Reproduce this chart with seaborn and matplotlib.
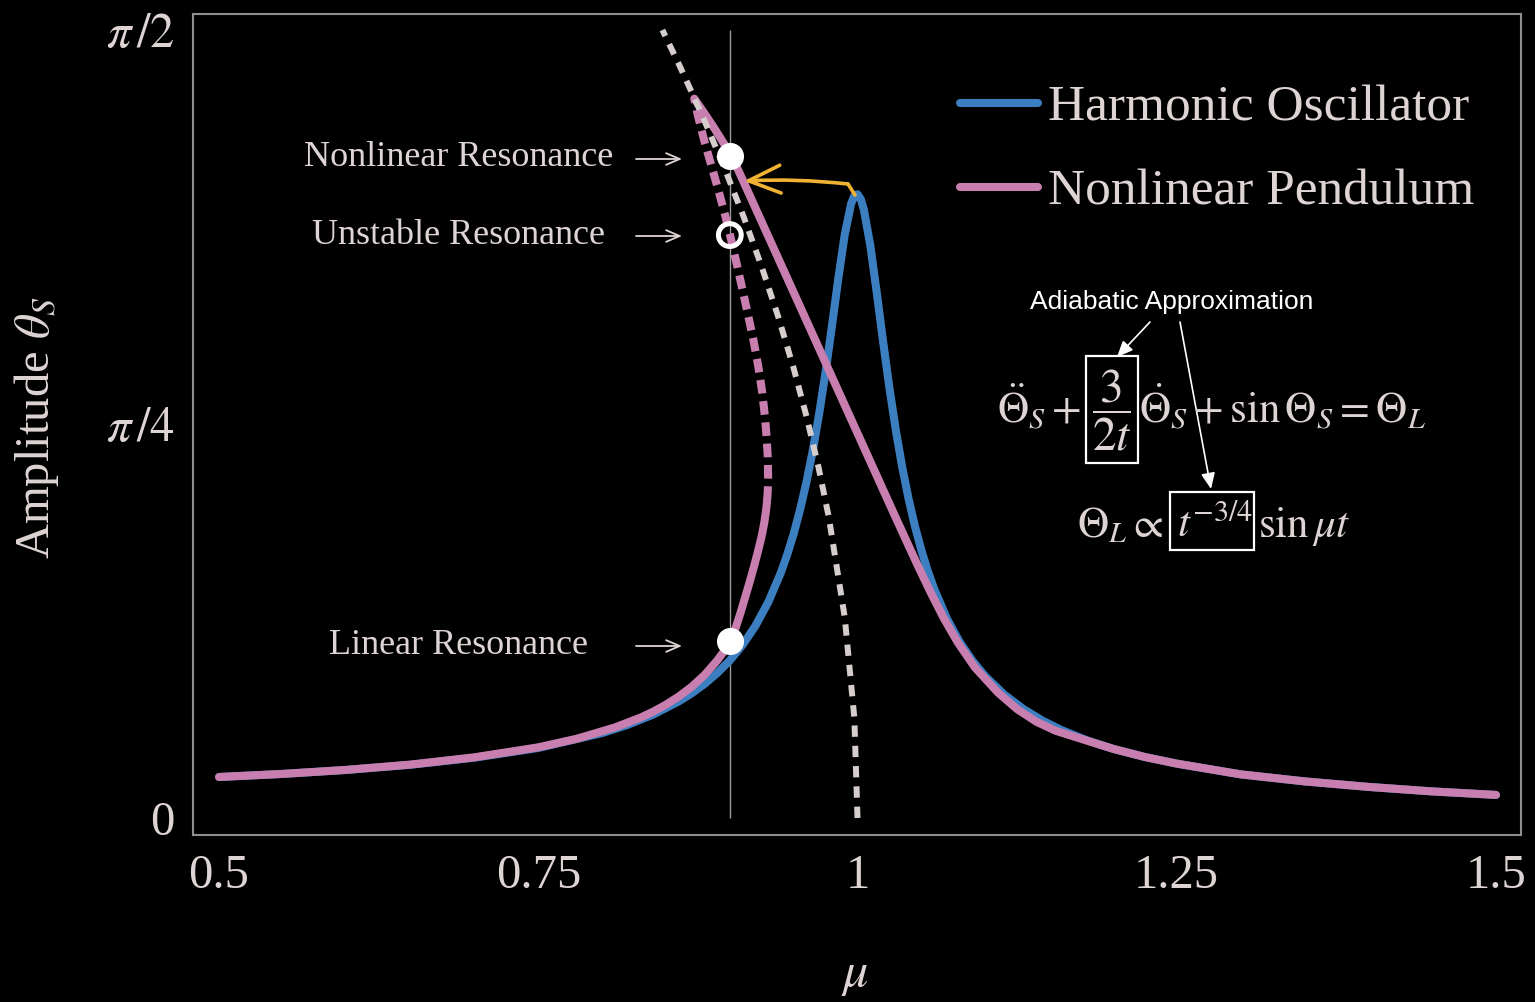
import numpy as np
import matplotlib
matplotlib.use("Agg")
import matplotlib.pyplot as plt
from matplotlib.lines import Line2D
from matplotlib.patches import Rectangle
import seaborn as sns

# ---------------------------------------------------------------------------
# Steady-state amplitude theta_S versus drive frequency mu
# ---------------------------------------------------------------------------
harmonic_mu = [0.50, 0.55, 0.60, 0.65, 0.70, 0.75, 0.80, 0.82, 0.84, 0.86,
               0.87, 0.88, 0.89, 0.90, 0.91, 0.92, 0.93, 0.94, 0.945, 0.95,
               0.955, 0.96, 0.965, 0.97, 0.975, 0.98, 0.985, 0.99, 0.995,
               0.9975, 1.00, 1.0025, 1.005, 1.01, 1.015, 1.02, 1.025, 1.03,
               1.035, 1.04, 1.045, 1.05, 1.055, 1.06, 1.07, 1.08, 1.09, 1.10,
               1.115, 1.13, 1.145, 1.16, 1.18, 1.20, 1.225, 1.25, 1.30, 1.35,
               1.40, 1.45, 1.50]
harmonic_amp = [0.0817, 0.0879, 0.0958, 0.1061, 0.1202, 0.1396, 0.1693, 0.1857,
                0.2062, 0.2323, 0.2483, 0.2668, 0.2885, 0.3140, 0.3450, 0.3827,
                0.4297, 0.4892, 0.5254, 0.5665, 0.6144, 0.6694, 0.7331, 0.8063,
                0.8896, 0.9810, 1.0762, 1.1630, 1.2246, 1.2401, 1.2434, 1.2339,
                1.2126, 1.1417, 1.0486, 0.9504, 0.8570, 0.7730, 0.6996, 0.6361,
                0.5813, 0.5338, 0.4927, 0.4568, 0.3975, 0.3509, 0.3134, 0.2826,
                0.2458, 0.2171, 0.1939, 0.1750, 0.1545, 0.1380, 0.1216, 0.1084,
                0.0870, 0.0730, 0.0620, 0.0530, 0.0460]

# nonlinear pendulum: stable lower branch
pendulum_lower_mu = [0.50, 0.55, 0.60, 0.65, 0.70, 0.75, 0.78, 0.81, 0.83, 0.84,
                     0.85, 0.86, 0.87, 0.88, 0.89, 0.895, 0.9000, 0.9047, 0.9085,
                     0.9120, 0.9155, 0.9188, 0.9219, 0.9248, 0.9271, 0.9287,
                     0.9292]
pendulum_lower_amp = [0.0817, 0.0879, 0.0960, 0.1065, 0.1210, 0.1409, 0.1578,
                      0.1805, 0.2001, 0.2120, 0.2260, 0.2422, 0.2613, 0.2845,
                      0.3135, 0.3308, 0.352, 0.380, 0.410, 0.440, 0.470, 0.500,
                      0.530, 0.560, 0.590, 0.620, 0.634]

# nonlinear pendulum: unstable middle branch
pendulum_unstable_mu = [0.9292, 0.9297, 0.9300, 0.9297, 0.9288, 0.9275, 0.9253,
                        0.9223, 0.9187, 0.9145, 0.9102, 0.9058, 0.9013, 0.8965,
                        0.8912, 0.8856, 0.8800, 0.8750, 0.8722]
pendulum_unstable_amp = [0.634, 0.650, 0.680, 0.720, 0.760, 0.800, 0.850, 0.900,
                         0.950, 1.000, 1.050, 1.100, 1.150, 1.200, 1.250, 1.300,
                         1.350, 1.400, 1.434]

# nonlinear pendulum: stable upper branch
pendulum_upper_mu = [0.8722, 0.8800, 0.8871, 0.8940, 0.9015, 0.9140, 0.9229,
                     0.9318, 0.9407, 0.9496, 0.9585, 0.9674, 0.9763, 0.9852,
                     0.9941, 1.0030, 1.0119, 1.0208, 1.0297, 1.0387, 1.0478,
                     1.0572, 1.0672, 1.0785, 1.0920, 1.1100, 1.1250, 1.1400,
                     1.1550, 1.1780, 1.2000, 1.2250, 1.2500, 1.3000, 1.3500,
                     1.4000, 1.4500, 1.5000]
pendulum_upper_amp = [1.434, 1.405, 1.378, 1.350, 1.320, 1.250, 1.200, 1.150,
                      1.100, 1.050, 1.000, 0.950, 0.900, 0.850, 0.800, 0.750,
                      0.700, 0.650, 0.600, 0.550, 0.500, 0.450, 0.400, 0.350,
                      0.300, 0.250, 0.217, 0.192, 0.174, 0.1555, 0.138, 0.1216,
                      0.1084, 0.087, 0.073, 0.062, 0.053, 0.046]

# free-pendulum backbone: frequency of oscillation versus amplitude
backbone_mu = [1.0000, 0.9975, 0.9900, 0.9775, 0.9694, 0.9601, 0.9496, 0.9378,
               0.9248, 0.9106, 0.8951, 0.8785, 0.8606, 0.8472]
backbone_amp = [0.0, 0.2, 0.4, 0.6, 0.7, 0.8, 0.9, 1.0, 1.1, 1.2, 1.3, 1.4,
                1.5, 1.5708]

# marked operating points on the mu = 0.9 line
drive_mu = 0.9
point_names = ["Nonlinear Resonance", "Unstable Resonance", "Linear Resonance"]
point_amp = [1.320, 1.162, 0.352]

x_ticks = [0.5, 0.75, 1.0, 1.25, 1.5]
x_tick_labels = ["0.5", "0.75", "1", "1.25", "1.5"]
y_ticks = [0.0, np.pi / 4, np.pi / 2]
y_tick_labels = ["0", r"$\pi\,/4$", r"$\pi\,/2$"]
legend_labels = ["Harmonic Oscillator", "Nonlinear Pendulum"]

# ---------------------------------------------------------------------------
W, H = 1535, 1002
BLUE = "#3c7fc1"
PINK = "#c87eaf"
GREY_DASH = "#d6cdcd"
TEXT = "#ded4d4"
FRAME = "#8e8e8e"
YELLOW = "#f0b232"

sns.set_theme(style="white")
plt.rcParams["font.family"] = ["Liberation Serif", "DejaVu Serif"]
plt.rcParams["mathtext.fontset"] = "stix"

fig = plt.figure(figsize=(W / 100, H / 100), dpi=100, facecolor="black")
ax = fig.add_axes([193 / W, (H - 835) / H, (1521 - 193) / W, (835 - 14) / H])
ax.set_facecolor("black")


def fx(x):
    return x / W


def fy(y):
    return 1 - y / H


# vertical guide at the drive frequency
ax.vlines(drive_mu, 0, np.pi / 2, color="#9c9c9c", lw=1.0, zorder=1)

lw = 5.8
sns.lineplot(x=harmonic_mu, y=harmonic_amp, sort=False, estimator=None,
             color=BLUE, lw=lw, ax=ax, zorder=2)
sns.lineplot(x=pendulum_lower_mu, y=pendulum_lower_amp, sort=False,
             estimator=None, color=PINK, lw=lw, ax=ax, zorder=3)
sns.lineplot(x=pendulum_unstable_mu, y=pendulum_unstable_amp, sort=False,
             estimator=None, color=PINK, lw=lw, ax=ax, zorder=3,
             linestyle=(0, (1.7, 0.95)))
sns.lineplot(x=pendulum_upper_mu, y=pendulum_upper_amp, sort=False,
             estimator=None, color=PINK, lw=lw, ax=ax, zorder=3)
sns.lineplot(x=backbone_mu, y=backbone_amp, sort=False, estimator=None,
             color=GREY_DASH, lw=4.3, ax=ax, zorder=4,
             linestyle=(0, (1.9, 1.5)))

# operating points
filled = [0, 2]
sns.scatterplot(x=[drive_mu] * 2, y=[point_amp[i] for i in filled], s=380,
                color="white", edgecolor="white", linewidth=0, ax=ax, zorder=6)
ax.scatter([drive_mu], [point_amp[1]], s=270, facecolor="none",
           edgecolor="white", linewidth=3.6, zorder=6)

ax.set_xlim(0.4796, 1.5196)
ax.set_ylim(-0.0339, 1.6027)
ax.set_xticks(x_ticks, x_tick_labels)
ax.set_yticks(y_ticks, y_tick_labels)
ax.tick_params(axis="both", direction="in", length=11, width=1.3,
               color=FRAME, labelcolor=TEXT, labelsize=35, pad=13)
ax.tick_params(axis="x", pad=14)
for sp in ax.spines.values():
    sp.set_color(FRAME)
    sp.set_linewidth(1.5)
ax.set_xlabel("")
ax.set_ylabel("")

fig.text(fx(37), fy(428), r"Amplitude $\theta_S$", rotation=90, ha="center",
         va="center", fontsize=35, color=TEXT)
fig.text(fx(855), fy(975), r"$\mu$", ha="center", va="center", fontsize=36,
         color=TEXT)

# legend
handles = [Line2D([], [], color=BLUE, lw=lw), Line2D([], [], color=PINK, lw=lw)]
leg = ax.legend(handles, legend_labels, loc="upper left",
                bbox_to_anchor=(fx(960), fy(85)), bbox_transform=fig.transFigure,
                frameon=False, fontsize=37, handlelength=1.52,
                handletextpad=0.2, labelspacing=0.72, borderpad=0,
                borderaxespad=0)
for t in leg.get_texts():
    t.set_color(TEXT)

# labels for the operating points
label_y = [158, 235, 645]
for name, y in zip(point_names, label_y):
    fig.text(fx(459), fy(y), name, ha="center", va="center", fontsize=26,
             color=TEXT)
    ax.annotate("", xy=(682, H - y - 1), xytext=(636, H - y - 1),
                xycoords="figure pixels", textcoords="figure pixels",
                arrowprops=dict(arrowstyle="->,head_length=0.7,head_width=0.3",
                                color=TEXT, lw=1.3, mutation_scale=14,
                                shrinkA=0, shrinkB=0))

# hand-drawn jump arrow from the linear peak to the nonlinear resonance
ax.add_line(Line2D([fx(855), fx(848)], [fy(195), fy(184)],
                   transform=fig.transFigure, color=YELLOW, lw=2.6,
                   solid_capstyle="round", zorder=8))
ax.annotate("", xy=(744, H - 181), xytext=(848, H - 184),
            xycoords="figure pixels", textcoords="figure pixels",
            arrowprops=dict(arrowstyle="->,head_length=1.15,head_width=0.5",
                            color=YELLOW, lw=2.6, mutation_scale=20,
                            shrinkA=0, shrinkB=0,
                            connectionstyle="arc3,rad=0.04"), zorder=8)

# adiabatic approximation equations
fig.text(fx(1172), fy(302), "Adiabatic Approximation", ha="center",
         va="center", fontsize=19, color="white", family="Liberation Sans")
EQ = 31
fig.text(fx(997), fy(424), r"$\ddot{\Theta}_S +$", ha="left", va="baseline",
         fontsize=EQ, color=TEXT)
fig.text(fx(1112), fy(410), r"$\dfrac{3}{2t}$", ha="center", va="center",
         fontsize=34, color=TEXT)
fig.text(fx(1139), fy(424), r"$\dot{\Theta}_S + \sin\Theta_S = \Theta_L$",
         ha="left", va="baseline", fontsize=EQ, color=TEXT)
fig.text(fx(1077), fy(537), r"$\Theta_L \propto$", ha="left", va="baseline",
         fontsize=EQ, color=TEXT)
fig.text(fx(1177), fy(537), r"$t^{-3/4}$", ha="left", va="baseline",
         fontsize=EQ, color=TEXT)
fig.text(fx(1258), fy(537), r"$\sin\mu t$", ha="left", va="baseline",
         fontsize=EQ, color=TEXT)
for (x0, y0, x1, y1) in [(1086, 356, 1138, 463), (1170, 492, 1254, 550)]:
    fig.patches.append(Rectangle((fx(x0), fy(y1)), (x1 - x0) / W, (y1 - y0) / H,
                                 transform=fig.transFigure, fill=False,
                                 edgecolor="white", lw=1.6))
for (xs, ys, xe, ye) in [(1150, 322, 1117, 357), (1180, 322, 1211, 489)]:
    ax.annotate("", xy=(xe, H - ye), xytext=(xs, H - ys),
                xycoords="figure pixels", textcoords="figure pixels",
                arrowprops=dict(arrowstyle="-|>,head_length=0.8,head_width=0.35",
                                color="white", lw=1.2, mutation_scale=12,
                                shrinkA=0, shrinkB=0))

fig.savefig("out.png", dpi=100, facecolor="black")
